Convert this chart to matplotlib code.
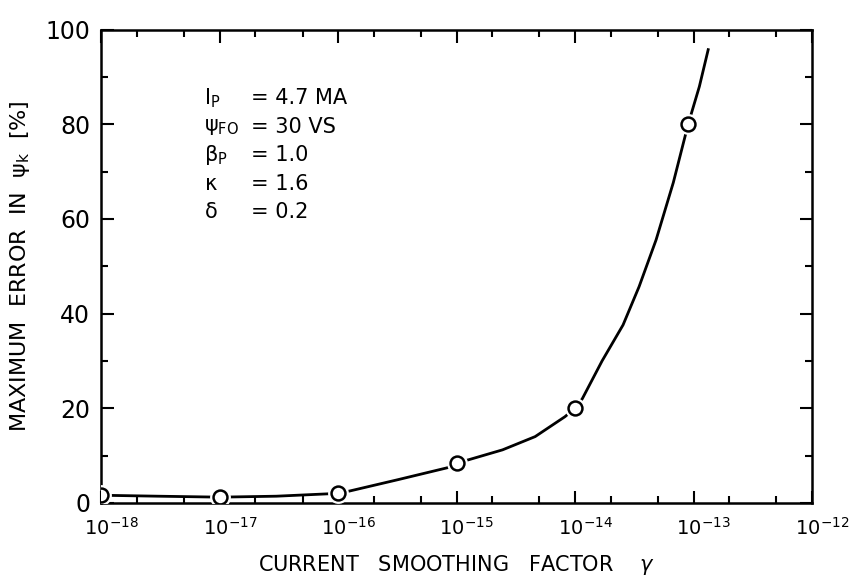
import numpy as np
import matplotlib.pyplot as plt
import matplotlib.transforms as mtransforms
from matplotlib.ticker import LogLocator, MultipleLocator, FixedLocator

# measured points (circles)
gamma_pts = [1e-18, 1e-17, 1e-16, 1e-15, 1e-14, 9e-14]
err_pts = [1.6, 1.2, 2.0, 8.5, 20.0, 80.0]

# hand-drawn curve
gamma_curve = [1e-18, 3e-18, 1e-17, 3e-17, 1e-16, 1.25e-16, 3.2e-16, 8.3e-16,
               1e-15, 1.26e-15, 2.44e-15, 4.6e-15, 8.2e-15, 1e-14, 1.15e-14,
               1.69e-14, 2.54e-14, 3.47e-14, 4.83e-14, 6.75e-14, 9e-14,
               1.12e-13, 1.33e-13]
err_curve = [1.6, 1.4, 1.2, 1.4, 2.0, 2.5, 4.9, 7.4,
             8.5, 9.1, 11.2, 14.0, 18.2, 20.0, 22.0,
             30.0, 37.6, 45.7, 55.6, 67.7, 80.0,
             88.0, 95.8]

params = [r'$\mathregular{I_P}$', r'$\mathregular{\psi_{FO}}$', r'$\mathregular{\beta_P}$',
          r'$\mathregular{\kappa}$', r'$\mathregular{\delta}$']
values = ['= 4.7 MA', '= 30 VS', '= 1.0', '= 1.6', '= 0.2']

plt.rcParams['font.family'] = 'DejaVu Sans'
fig = plt.figure(figsize=(8.52, 5.84), dpi=100)
ax = fig.add_axes([0.119, 0.139, 0.834, 0.81])

ax.plot(gamma_curve, err_curve, color='black', lw=2, zorder=2)
# white halo gives the small gaps round each circle
ax.plot(gamma_pts, err_pts, 'o', ms=15, mfc='white', mec='none', zorder=3)
ax.plot(gamma_pts, err_pts, 'o', ms=10, mfc='white', mec='black', mew=1.8, zorder=4)

ax.set_xscale('log')
ax.set_xlim(1e-18, 1e-12)
ax.set_ylim(0, 100)

ax.xaxis.set_major_locator(FixedLocator([10.0 ** k for k in range(-18, -11)]))
ax.xaxis.set_minor_locator(LogLocator(base=10, subs=(2.0, 5.0)))
ax.set_xticklabels([r'$\mathregular{10^{%d}}$' % k for k in range(-18, -11)])
ax.yaxis.set_major_locator(MultipleLocator(20))
ax.yaxis.set_minor_locator(MultipleLocator(10))

ax.tick_params(which='both', direction='in', top=True, right=True, width=1.5)
ax.tick_params(which='major', length=9)
ax.tick_params(which='minor', length=5)
ax.tick_params(axis='y', which='major', labelsize=17, pad=8)
ax.tick_params(axis='x', which='major', labelsize=14, pad=10)
shift = mtransforms.ScaledTranslation(0.1, 0, fig.dpi_scale_trans)
for lab in ax.get_xticklabels():
    lab.set_transform(lab.get_transform() + shift)
for s in ax.spines.values():
    s.set_linewidth(1.8)

ax.set_xlabel(r'CURRENT   SMOOTHING   FACTOR    $\gamma$', fontsize=15, labelpad=10)
ax.set_ylabel(r'MAXIMUM  ERROR  IN  $\mathregular{\psi_k}$  [%]', fontsize=16, labelpad=10)

for i, (p, v) in enumerate(zip(params, values)):
    y = 0.855 - i * 0.06
    ax.text(0.144, y, p, transform=ax.transAxes, fontsize=15, va='center')
    ax.text(0.21, y, v, transform=ax.transAxes, fontsize=15, va='center')

fig.savefig('out.png', dpi=100)
